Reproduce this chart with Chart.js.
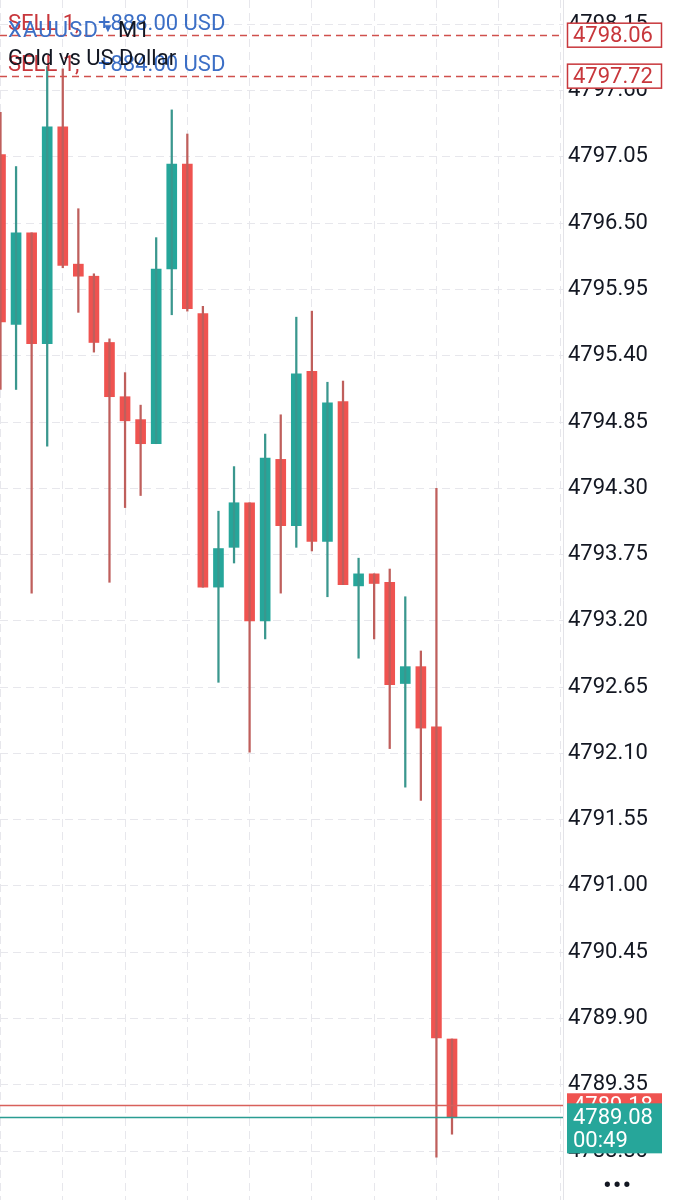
<!DOCTYPE html>
<html>
<head>
<meta charset="utf-8">
<script src="https://cdn.jsdelivr.net/npm/chart.js@4.4.1/dist/chart.umd.min.js"></script>
<style>
  html, body { margin: 0; padding: 0; background: #fff; }
  #wrap { position: relative; width: 678px; height: 1200px; overflow: hidden;
          font-family: Roboto, 'Noto Sans', sans-serif; }
  #ch { position: absolute; left: 0; top: 0; }
  .lbl { position: absolute; white-space: nowrap; line-height: 1; font-size: 22px; }
  .red  { color: #c8373c; }
  .blue { color: #3c6fc6; }
  .ink  { color: #131722; }
  #dots { position: absolute; left: 603px; top: 1172px; font-size: 26px; line-height: 1;
          letter-spacing: 1px; color: #131722; }
</style>
</head>
<body>
<div id="wrap">
  <canvas id="ch" width="678" height="1200"></canvas>
  <div id="head"></div>
  <div id="dots">•••</div>
</div>
<script>
// ── Datos (XAUUSD M1) ─────────────────────────────────────────────────────
const slots  = [0, 1, 2, 3, 4, 5, 6, 7, 8, 9, 10, 11, 12, 13, 14,
                15, 16, 17, 18, 19, 20, 21, 22, 23, 24, 25, 26, 27, 28, 29];
const opens  = [4797.07, 4795.66, 4796.42, 4795.50, 4797.30, 4796.16, 4796.06, 4795.51, 4795.06, 4794.87,
                4794.67, 4796.12, 4796.99, 4795.75, 4793.48, 4793.81, 4794.18, 4793.20, 4794.54, 4793.99,
                4795.27, 4793.86, 4795.02, 4793.49, 4793.59, 4793.52, 4792.68, 4792.82, 4792.32, 4789.73];
const highs  = [4797.42, 4796.97, 4796.42, 4797.80, 4797.78, 4796.62, 4796.08, 4795.54, 4795.26, 4794.99,
                4796.38, 4797.44, 4797.24, 4795.81, 4794.11, 4794.48, 4794.18, 4794.75, 4794.91, 4795.72,
                4795.77, 4795.18, 4795.19, 4793.72, 4793.59, 4793.63, 4793.40, 4792.95, 4794.30, 4789.73];
const lows   = [4795.12, 4795.12, 4793.43, 4794.65, 4796.13, 4795.76, 4795.43, 4793.52, 4794.14, 4794.24,
                4794.67, 4795.74, 4795.77, 4793.48, 4792.69, 4793.68, 4792.11, 4793.05, 4793.43, 4793.81,
                4793.78, 4793.40, 4793.50, 4792.89, 4793.05, 4792.14, 4791.82, 4791.71, 4788.75, 4788.94];
const closes = [4795.68, 4796.42, 4795.50, 4797.30, 4796.15, 4796.06, 4795.51, 4795.06, 4794.86, 4794.67,
                4796.12, 4796.99, 4795.79, 4793.48, 4793.80, 4794.18, 4793.20, 4794.55, 4793.99, 4795.25,
                4793.86, 4795.01, 4793.50, 4793.59, 4793.51, 4792.67, 4792.82, 4792.31, 4789.74, 4789.08];

const yTicks = [4798.15, 4797.60, 4797.05, 4796.50, 4795.95, 4795.40, 4794.85, 4794.30, 4793.75,
                4793.20, 4792.65, 4792.10, 4791.55, 4791.00, 4790.45, 4789.90, 4789.35, 4788.80];
const xGrid  = [0, 4, 8, 12, 16, 20, 24, 28, 32, 36];

const symbol       = 'XAUUSD';
const timeframe    = 'M1';
const description  = 'Gold vs US Dollar';
const posSides     = ['SELL 1,', 'SELL 1,'];
const posProfits   = ['+888.00 USD', '+884.00 USD'];
const posPrices    = [4798.06, 4797.72];
const askPrice     = 4789.18;
const bidPrice     = 4789.08;
const countdown    = '00:49';

const UP = '#26a69a', DOWN = '#ef5350';
const UP_WICK = '#3a978e', DOWN_WICK = '#bf5f5c';

// ── Cabecera (texto real) ─────────────────────────────────────────────────
function _buildHeader() {
    const h = document.getElementById('head');
    const rows = [
        `<div class="lbl red"  style="left:8px;top:12px">${posSides[0]}</div>`,
        `<div class="lbl blue" style="left:98px;top:12px">${posProfits[0]}</div>`,
        `<div class="lbl blue" style="left:8px;top:19px;letter-spacing:1.2px">${symbol}</div>`,
        `<div class="lbl blue" style="left:102px;top:22px;font-size:12px">▼</div>`,
        `<div class="lbl ink"  style="left:118px;top:19px">${timeframe}</div>`,
        `<div class="lbl red"  style="left:8px;top:53px">${posSides[1]}</div>`,
        `<div class="lbl blue" style="left:98px;top:53px">${posProfits[1]}</div>`,
        `<div class="lbl ink"  style="left:8px;top:47px">${description}</div>`,
    ];
    h.innerHTML = rows.join('');
}
_buildHeader();

// ── Lineas de precio y etiquetas del eje ─────────────────────────────────
const priceLines = {
    id: 'priceLines',
    afterDatasetsDraw(chart) {
        const { ctx, chartArea: a, scales: { y } } = chart;
        ctx.save();
        ctx.beginPath(); ctx.rect(a.left, a.top, a.right - a.left, a.bottom - a.top); ctx.clip();
        ctx.lineWidth = 1.5; ctx.strokeStyle = '#d0504d'; ctx.setLineDash([7, 5]);
        posPrices.forEach(p => {
            const py = Math.round(y.getPixelForValue(p)) + 0.5;
            ctx.beginPath(); ctx.moveTo(a.left, py); ctx.lineTo(a.right, py); ctx.stroke();
        });
        ctx.setLineDash([]); ctx.lineWidth = 1.5;
        [[askPrice, '#d8605b'], [bidPrice, '#2a9d92']].forEach(([p, c]) => {
            const py = Math.round(y.getPixelForValue(p)) + 0.5;
            ctx.strokeStyle = c;
            ctx.beginPath(); ctx.moveTo(a.left, py); ctx.lineTo(a.right, py); ctx.stroke();
        });
        ctx.restore();
    },
    afterDraw(chart) {
        const { ctx, scales: { y } } = chart;
        const bx = y.left + 4, bw = 95;
        ctx.save();
        ctx.font = '22px Roboto';
        ctx.textBaseline = 'middle'; ctx.textAlign = 'left';
        posPrices.forEach(p => {
            const py = y.getPixelForValue(p);
            ctx.fillStyle = '#fff'; ctx.fillRect(bx, py - 12, bw, 24);
            ctx.strokeStyle = '#c8373c'; ctx.lineWidth = 1.5;
            ctx.strokeRect(bx + 0.5, py - 12, bw - 1, 24);
            ctx.fillStyle = '#c8373c'; ctx.fillText(p.toFixed(2), bx + 6, py + 1);
        });
        const ya = y.getPixelForValue(askPrice);
        ctx.fillStyle = DOWN; ctx.fillRect(bx, ya - 12, bw, 24);
        ctx.fillStyle = '#fff'; ctx.fillText(askPrice.toFixed(2), bx + 6, ya + 1);
        const yb = y.getPixelForValue(bidPrice);
        ctx.fillStyle = UP; ctx.fillRect(bx, yb - 14, bw, 50);
        ctx.fillStyle = '#fff';
        ctx.fillText(bidPrice.toFixed(2), bx + 6, yb + 1);
        ctx.fillText(countdown, bx + 6, yb + 24);
        ctx.restore();
    },
};

// ── Grafico de velas (barras flotantes) ──────────────────────────────────
const up = slots.map(i => closes[i] >= opens[i]);

new Chart(document.getElementById('ch').getContext('2d'), {
    type: 'bar',
    data: {
        datasets: [
            {
                label: 'wick',
                data: slots.map(i => ({ x: i, y: [lows[i], highs[i]] })),
                backgroundColor: up.map(u => u ? UP_WICK : DOWN_WICK),
                barThickness: 1.6, grouped: false, borderWidth: 0,
            },
            {
                label: 'body',
                data: slots.map(i => ({ x: i, y: [opens[i], closes[i]] })),
                backgroundColor: up.map(u => u ? UP : DOWN),
                barThickness: 10, grouped: false, borderWidth: 0,
            },
        ],
    },
    options: {
        responsive: false, animation: false, devicePixelRatio: 1,
        layout: { padding: 0 },
        plugins: { legend: { display: false }, tooltip: { enabled: false } },
        scales: {
            x: {
                type: 'linear', min: -0.032, max: 36.13, offset: false,
                afterBuildTicks: s => { s.ticks = xGrid.map(v => ({ value: v })); },
                ticks: { display: false },
                grid: { color: '#e7e7ec', lineWidth: 1, drawTicks: false, offset: false },
                border: { display: false, dash: [8, 5] },
            },
            y: {
                position: 'right', min: 4788.394, max: 4798.352,
                afterBuildTicks: s => { s.ticks = yTicks.map(v => ({ value: v })); },
                afterFit: s => { s.width = 115; s.paddingTop = 0; s.paddingBottom = 0; },
                ticks: {
                    color: '#131722', font: { family: 'Roboto', size: 22 }, padding: 5,
                    autoSkip: false, callback: v => v.toFixed(2),
                },
                grid: { color: '#e7e7ec', lineWidth: 1, drawTicks: false },
                border: { display: true, color: '#e3e3e8', dash: [8, 5] },
            },
        },
    },
    plugins: [priceLines],
});
</script>
</body>
</html>
